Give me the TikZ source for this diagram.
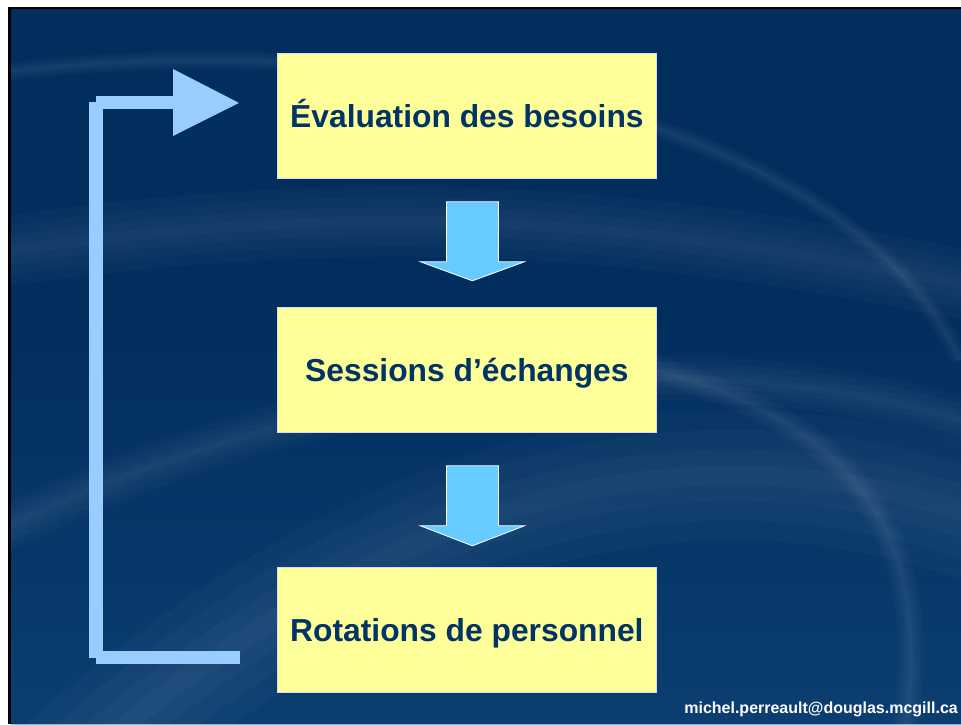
\documentclass[tikz,border=0pt]{standalone}
\usepackage{fontspec}
\setmainfont{Liberation Sans}
\usetikzlibrary{calc}
\definecolor{navy}{RGB}{0,51,102}
\definecolor{bgdark}{RGB}{2,46,94}
\definecolor{bglight}{RGB}{24,82,136}
\definecolor{boxyellow}{RGB}{255,255,153}
\definecolor{loopblue}{RGB}{153,204,255}
\definecolor{downblue}{RGB}{102,204,255}
\tikzset{
  stepbox/.style={draw=white!85!blue, line width=0.8pt, fill=boxyellow,
    minimum width=379pt, minimum height=125pt, inner sep=0pt, text=navy,
    font=\fontsize{31.8}{36}\selectfont\bfseries, text height=22.8pt,
    text depth=0pt, anchor=north west},
  downarr/.style={fill=downblue, draw=white, line width=0.8pt, line join=miter},
  loopfill/.style={fill=loopblue},
  swoosh/.style={draw=white, line cap=butt, opacity=0.022},
}
\newcommand{\softstroke}[2]{%
  \draw[swoosh, line width=#1pt] #2;
  \draw[swoosh, line width=0.7*#1pt] #2;
  \draw[swoosh, line width=0.4*#1pt] #2;
  \draw[swoosh, line width=0.15*#1pt] #2;}
\begin{document}
\begin{tikzpicture}[x=1pt, y=-1pt]
\useasboundingbox (0,0) rectangle (961,724);
% slide frame and background
\fill[white] (0,0) rectangle (961,724);
\fill[black] (8,7) rectangle (961,724);
\fill[bgdark] (11,9) rectangle (961,724);
\begin{scope}
  \clip (11,9) rectangle (961,724);
  \shade[top color=bgdark, bottom color=bglight, opacity=0.45] (11,300) rectangle (961,724);
  \softstroke{18}{(-20,75) .. controls (400,20) and (850,120) .. (960,360)}
  \softstroke{70}{(-20,255) .. controls (400,190) and (700,230) .. (990,290)}
  \softstroke{130}{(60,780) .. controls (400,480) and (700,420) .. (990,520)}
  \softstroke{26}{(560,350) .. controls (880,400) and (940,550) .. (900,760)}
  \softstroke{45}{(-20,540) .. controls (400,330) and (800,360) .. (990,430)}
\end{scope}

% boxes
\node[stepbox] (eval) at (277,53) {Évaluation des besoins};
\node[stepbox] (sess) at (277,307) {Sessions d’échanges};
\node[stepbox] (rota) at (277,567) {Rotations de personnel};

% down block arrows
\begin{scope}[shift={(eval.south)}]
  \draw[downarr] (-20.5,23) -- (31.5,23) -- (31.5,83) -- (57.5,83) -- (5.5,102)
    -- (-46.5,83) -- (-20.5,83) -- cycle;
\end{scope}
\begin{scope}[shift={(sess.south)}]
  \draw[downarr] (-20.5,33) -- (31.5,33) -- (31.5,93) -- (57.5,93) -- (5.5,113)
    -- (-46.5,93) -- (-20.5,93) -- cycle;
\end{scope}

% feedback loop arrow
\coordinate (loopend) at ($(eval.west)+(-38,-13)$);
\fill[loopfill] (89.3,101.7) rectangle (102.7,658);
\fill[loopfill] (96,96) rectangle (173,109.3);
\fill[loopfill] (96,651) rectangle (240,664);
\fill[loopfill] (173,69) -- (loopend) -- (173,136) -- cycle;

% footer
\node[anchor=base east, text=white, font=\fontsize{16}{19}\selectfont\bfseries,
  inner sep=0pt] (mail) at (958,713) {michel.perreault@douglas.mcgill.ca};
\end{tikzpicture}
\end{document}
